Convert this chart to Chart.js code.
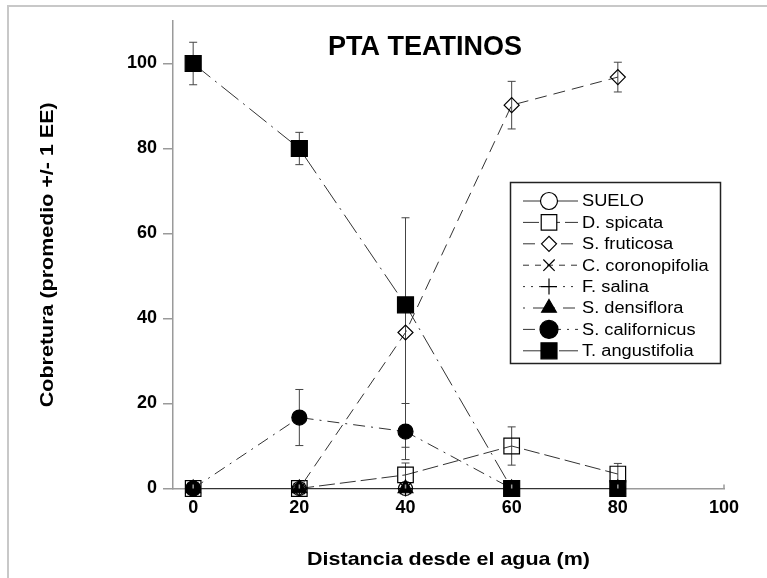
<!DOCTYPE html>
<html>
<head>
<meta charset="utf-8">
<script src="https://cdn.jsdelivr.net/npm/chart.js@4.4.0/dist/chart.umd.min.js"></script>
<style>
  html, body { margin: 0; padding: 0; background: #fff; }
</style>
</head>
<body>
<canvas id="chartLine" width="767" height="578"></canvas>
<script>
// data
const distances = [0, 20, 40, 60, 80];
const xTicks = [0, 20, 40, 60, 80, 100];
const yTicks = [0, 20, 40, 60, 80, 100];
const seriesNames = ["SUELO", "D. spicata", "S. fruticosa", "C. coronopifolia",
                     "F. salina", "S. densiflora", "S. californicus", "T. angustifolia"];

const suelo = [0, 0, 0, 0, 0];
const dSpicata = [0, 0, 3.2, 10, 3.4];
const sFruticosa = [0, 0, 36.7, 90.2, 96.8];
const cCoronopifolia = [0, 0, 0, 0, 0];
const fSalina = [0, 0, 0, 0, 0];
const sDensiflora = [0, 0, 0, 0, 0];
const sCalifornicus = [0, 16.7, 13.4, 0, 0];
const tAngustifolia = [100, 80, 43.2, 0, 0];

// +/- 1 EE
const sueloErr = [0, 0, 0, 0, 0];
const dSpicataErr = [0, 0, 2.8, 4.5, 2.5];
const sFruticosaErr = [0, 0, 27, 5.6, 3.5];
const cCoronopifoliaErr = [0, 0, 0, 0, 0];
const fSalinaErr = [0, 0, 0, 0, 0];
const sDensifloraErr = [0, 0, 0, 0, 0];
const sCalifornicusErr = [0, 6.6, 6.6, 0, 0];
const tAngustifoliaErr = [5, 3.8, 1.5, 0, 0];

const allValues = [suelo, dSpicata, sFruticosa, cCoronopifolia, fSalina, sDensiflora, sCalifornicus, tAngustifolia];
const allErrors = [sueloErr, dSpicataErr, sFruticosaErr, cCoronopifoliaErr, fSalinaErr, sDensifloraErr, sCalifornicusErr, tAngustifoliaErr];

// look of each series
const markerStyles = [
  { pointStyle: "circle",   radius: 7,    filled: false, dash: [] },
  { pointStyle: "rect",     radius: 11,   filled: false, dash: [16, 5] },
  { pointStyle: "rectRot",  radius: 7.5,  filled: false, dash: [12, 7] },
  { pointStyle: "crossRot", radius: 8,    filled: false, dash: [6, 6] },
  { pointStyle: "cross",    radius: 8,    filled: false, dash: [2, 6] },
  { pointStyle: "triangle", radius: 8.5,  filled: true,  dash: [2, 8, 12, 8] },
  { pointStyle: "circle",   radius: 7.5,  filled: true,  dash: [12, 6, 2, 6] },
  { pointStyle: "rect",     radius: 11.3, filled: true,  dash: [22, 6, 2, 6] }
];

const lineColor = "#333";
const axisColor = "#9a9a9a";
const fontFamily = "'Liberation Sans', Arial, Helvetica, sans-serif";

const datasets = seriesNames.map(function (name, i) {
  const st = markerStyles[i];
  return {
    label: name,
    data: distances.map(function (d, j) { return { x: d, y: allValues[i][j] }; }),
    showLine: true,
    borderColor: lineColor,
    borderWidth: 1,
    borderDash: st.dash,
    pointStyle: st.pointStyle,
    pointRadius: st.radius,
    pointHoverRadius: st.radius,
    pointBorderColor: "#000",
    pointBorderWidth: 1.2,
    pointBackgroundColor: st.filled ? "#000" : "rgba(0,0,0,0)",
    tension: 0,
    clip: false,
    order: seriesNames.length - i
  };
});

function stretchText(ctx, text, x, y, font, sx, align, rot) {
  ctx.save();
  ctx.translate(x, y);
  if (rot) ctx.rotate(rot);
  ctx.scale(sx, 1);
  ctx.font = font;
  ctx.textAlign = align;
  ctx.textBaseline = "alphabetic";
  ctx.fillStyle = "#000";
  ctx.fillText(text, 0, 0);
  ctx.restore();
}

const decor = {
  id: "decor",
  beforeDraw(chart) {
    const ctx = chart.ctx;
    ctx.save();
    ctx.fillStyle = "#fff";
    ctx.fillRect(0, 0, chart.width, chart.height);
    ctx.strokeStyle = "#c8c8c8";
    ctx.lineWidth = 2;
    ctx.beginPath();
    ctx.moveTo(8, chart.height);
    ctx.lineTo(8, 6);
    ctx.lineTo(chart.width, 6);
    ctx.stroke();
    ctx.restore();
  },
  beforeDatasetsDraw(chart) {
    // error bars
    const ctx = chart.ctx;
    const xs = chart.scales.x, ys = chart.scales.y;
    ctx.save();
    ctx.strokeStyle = "#444";
    ctx.lineWidth = 1;
    allErrors.forEach(function (errs, i) {
      errs.forEach(function (e, j) {
        if (!e) return;
        const v = allValues[i][j];
        const px = xs.getPixelForValue(distances[j]);
        const top = ys.getPixelForValue(v + e);
        const bot = ys.getPixelForValue(Math.max(v - e, 0));
        ctx.beginPath();
        ctx.moveTo(px, top); ctx.lineTo(px, bot);
        ctx.moveTo(px - 4, top); ctx.lineTo(px + 4, top);
        if (v - e > 0) { ctx.moveTo(px - 4, bot); ctx.lineTo(px + 4, bot); }
        ctx.stroke();
      });
    });
    ctx.restore();
  },
  afterDraw(chart) {
    const ctx = chart.ctx;
    const area = chart.chartArea;
    const xs = chart.scales.x;

    // small inward ticks on the x axis
    ctx.save();
    ctx.strokeStyle = axisColor;
    ctx.lineWidth = 1.5;
    xTicks.forEach(function (t) {
      const px = xs.getPixelForValue(t);
      ctx.beginPath();
      ctx.moveTo(px, area.bottom);
      ctx.lineTo(px, area.bottom - 4);
      ctx.stroke();
    });
    ctx.restore();

    // titles
    stretchText(ctx, "PTA TEATINOS", 425, 55, "bold 27px " + fontFamily, 1, "center", 0);
    stretchText(ctx, "Distancia desde el agua (m)", (area.left + area.right) / 2, 565,
                "bold 19px " + fontFamily, 1.13, "center", 0);
    stretchText(ctx, "Cobretura (promedio +/- 1 EE)", 53, (area.top + area.bottom) / 2,
                "bold 19px " + fontFamily, 1.13, "center", -Math.PI / 2);

    // legend box
    ctx.save();
    ctx.strokeStyle = "#222";
    ctx.lineWidth = 1.5;
    ctx.strokeRect(510.5, 182.5, 210, 181);
    seriesNames.forEach(function (name, i) {
      const st = markerStyles[i];
      const y = 201 + i * 21.4;
      ctx.save();
      ctx.strokeStyle = lineColor;
      ctx.lineWidth = 1;
      ctx.setLineDash(st.dash);
      ctx.beginPath();
      ctx.moveTo(523, y); ctx.lineTo(578, y);
      ctx.stroke();
      ctx.restore();
      ctx.save();
      ctx.fillStyle = st.filled ? "#000" : "#fff";
      ctx.strokeStyle = "#000";
      ctx.lineWidth = 1.2;
      const r = st.pointStyle === "circle" ? st.radius + 1.5 : st.radius;
      Chart.helpers.drawPoint(ctx, { pointStyle: st.pointStyle, radius: r, rotation: 0, borderWidth: 1.2 }, 549, y);
      ctx.restore();
      ctx.save();
      ctx.translate(582, y);
      ctx.scale(1.14, 1);
      ctx.font = "16px " + fontFamily;
      ctx.textBaseline = "middle";
      ctx.fillStyle = "#000";
      ctx.fillText(name, 0, 1);
      ctx.restore();
    });
    ctx.restore();
  }
};

new Chart(document.getElementById("chartLine"), {
  type: "scatter",
  data: { datasets: datasets },
  options: {
    responsive: false,
    animation: false,
    events: [],
    layout: { padding: { top: 21, right: 43, left: 0, bottom: 0 } },
    plugins: { legend: { display: false }, tooltip: { enabled: false }, title: { display: false } },
    scales: {
      x: {
        type: "linear",
        min: -3.8,
        max: 100,
        afterBuildTicks: function (scale) { scale.ticks = xTicks.map(function (v) { return { value: v }; }); },
        afterFit: function (scale) { scale.height = 89.5; },
        grid: { display: true, drawOnChartArea: false, drawTicks: false },
        border: { display: true, color: axisColor, width: 1.5 },
        ticks: { color: "#000", padding: 9, maxRotation: 0, autoSkip: false,
                 font: { family: fontFamily, size: 18, weight: "bold" } }
      },
      y: {
        type: "linear",
        min: 0,
        max: 110,
        afterBuildTicks: function (scale) { scale.ticks = yTicks.map(function (v) { return { value: v }; }); },
        afterFit: function (scale) { scale.width = 173; },
        grid: { display: true, drawOnChartArea: false, drawTicks: true, tickLength: 10, color: axisColor, lineWidth: 1.5 },
        border: { display: true, color: axisColor, width: 1.5 },
        ticks: { color: "#000", padding: 6, autoSkip: false,
                 font: { family: fontFamily, size: 18, weight: "bold" } }
      }
    }
  },
  plugins: [decor]
});
</script>
</body>
</html>
